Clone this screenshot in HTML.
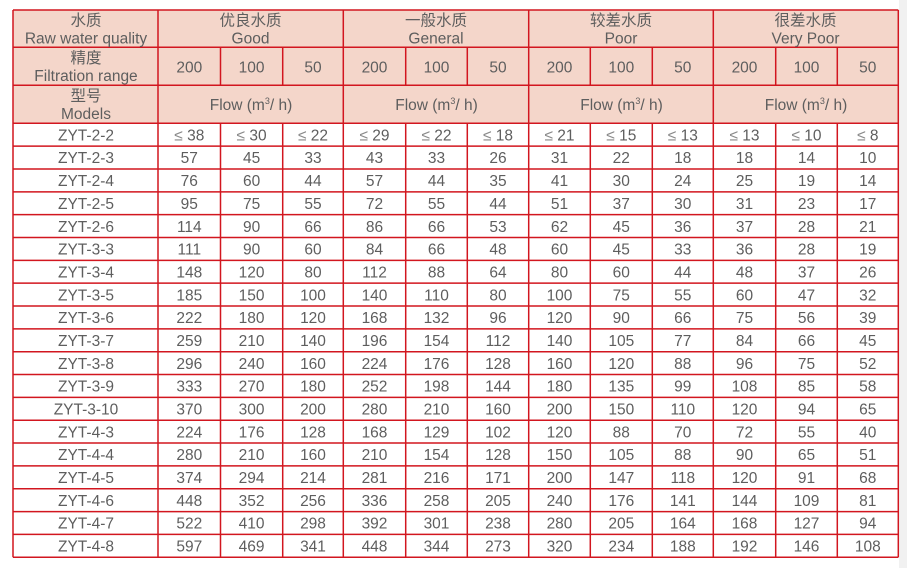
<!DOCTYPE html>
<html><head><meta charset="utf-8"><style>
html,body{margin:0;padding:0;background:#fff;}
svg{display:block;}
text{font-family:"Liberation Sans","Noto Sans CJK SC",sans-serif;font-size:15.5px;fill:#5e5e5e;text-anchor:middle;}
.le{font-size:15.5px;fill:#8a8a8a;}
</style></head><body>
<svg width="907" height="568" viewBox="0 0 907 568" xmlns="http://www.w3.org/2000/svg">
<rect x="0" y="0" width="907" height="568" fill="#fff"/>
<rect x="899" y="0" width="8" height="568" fill="#f1f1f1"/>
<rect x="13" y="10" width="885.3" height="113.3" fill="#f4d6ca"/>
<g stroke="#d2161f" stroke-width="1.5" fill="none">
<line x1="13" y1="10" x2="13" y2="557.3"/>
<line x1="158" y1="10" x2="158" y2="557.3"/>
<line x1="343.3" y1="10" x2="343.3" y2="557.3"/>
<line x1="528.7" y1="10" x2="528.7" y2="557.3"/>
<line x1="713.3" y1="10" x2="713.3" y2="557.3"/>
<line x1="898.3" y1="10" x2="898.3" y2="557.3"/>
<path d="M220.5 47.3V85.3M282.7 47.3V85.3M405.7 47.3V85.3M467.3 47.3V85.3M590.3 47.3V85.3M652.3 47.3V85.3M775.7 47.3V85.3M837.3 47.3V85.3"/>
<path d="M220.5 123.3V557.3M282.7 123.3V557.3M405.7 123.3V557.3M467.3 123.3V557.3M590.3 123.3V557.3M652.3 123.3V557.3M775.7 123.3V557.3M837.3 123.3V557.3"/>
<path d="M13 10H898.3M13 47.3H898.3M13 85.3H898.3M13 123.3H898.3M13 146.14H898.3M13 168.98H898.3M13 191.82H898.3M13 214.66H898.3M13 237.5H898.3M13 260.34H898.3M13 283.18H898.3M13 306.02H898.3M13 328.86H898.3M13 351.7H898.3M13 374.54H898.3M13 397.38H898.3M13 420.22H898.3M13 443.06H898.3M13 465.9H898.3M13 488.74H898.3M13 511.58H898.3M13 534.42H898.3M13 557.26H898.3"/>
</g>
<!-- header row 1 -->
<text y="25.5"><tspan x="86">水质</tspan><tspan x="250.5">优良水质</tspan><tspan x="436">一般水质</tspan><tspan x="621">较差水质</tspan><tspan x="805.5">很差水质</tspan></text>
<text y="43.3"><tspan x="86">Raw water quality</tspan><tspan x="250.5">Good</tspan><tspan x="436">General</tspan><tspan x="621">Poor</tspan><tspan x="805.5">Very Poor</tspan></text>
<!-- header row 2 -->
<text y="63"><tspan x="86">精度</tspan></text>
<text y="81"><tspan x="86">Filtration range</tspan></text>
<text y="72.3"><tspan x="189.3">200</tspan><tspan x="251.6">100</tspan><tspan x="313">50</tspan><tspan x="374.5">200</tspan><tspan x="436.5">100</tspan><tspan x="498">50</tspan><tspan x="559.5">200</tspan><tspan x="621.3">100</tspan><tspan x="682.8">50</tspan><tspan x="744.5">200</tspan><tspan x="806.5">100</tspan><tspan x="867.8">50</tspan></text>
<!-- header row 3 -->
<text y="101"><tspan x="86">型号</tspan></text>
<text y="119"><tspan x="86">Models</tspan></text>
<text x="251" y="110">Flow (m<tspan dy="-6" font-size="9">3</tspan><tspan dy="6">/ h)</tspan></text>
<text x="436.5" y="110">Flow (m<tspan dy="-6" font-size="9">3</tspan><tspan dy="6">/ h)</tspan></text>
<text x="621.5" y="110">Flow (m<tspan dy="-6" font-size="9">3</tspan><tspan dy="6">/ h)</tspan></text>
<text x="806" y="110">Flow (m<tspan dy="-6" font-size="9">3</tspan><tspan dy="6">/ h)</tspan></text>
<!-- data -->
<text y="140.4"><tspan x="86">ZYT-2-2</tspan><tspan x="189.3"><tspan class="le">≤</tspan> 38</tspan><tspan x="251.6"><tspan class="le">≤</tspan> 30</tspan><tspan x="313"><tspan class="le">≤</tspan> 22</tspan><tspan x="374.5"><tspan class="le">≤</tspan> 29</tspan><tspan x="436.5"><tspan class="le">≤</tspan> 22</tspan><tspan x="498"><tspan class="le">≤</tspan> 18</tspan><tspan x="559.5"><tspan class="le">≤</tspan> 21</tspan><tspan x="621.3"><tspan class="le">≤</tspan> 15</tspan><tspan x="682.8"><tspan class="le">≤</tspan> 13</tspan><tspan x="744.5"><tspan class="le">≤</tspan> 13</tspan><tspan x="806.5"><tspan class="le">≤</tspan> 10</tspan><tspan x="867.8"><tspan class="le">≤</tspan> 8</tspan></text>
<text y="163.24"><tspan x="86">ZYT-2-3</tspan><tspan x="189.3">57</tspan><tspan x="251.6">45</tspan><tspan x="313">33</tspan><tspan x="374.5">43</tspan><tspan x="436.5">33</tspan><tspan x="498">26</tspan><tspan x="559.5">31</tspan><tspan x="621.3">22</tspan><tspan x="682.8">18</tspan><tspan x="744.5">18</tspan><tspan x="806.5">14</tspan><tspan x="867.8">10</tspan></text>
<text y="186.08"><tspan x="86">ZYT-2-4</tspan><tspan x="189.3">76</tspan><tspan x="251.6">60</tspan><tspan x="313">44</tspan><tspan x="374.5">57</tspan><tspan x="436.5">44</tspan><tspan x="498">35</tspan><tspan x="559.5">41</tspan><tspan x="621.3">30</tspan><tspan x="682.8">24</tspan><tspan x="744.5">25</tspan><tspan x="806.5">19</tspan><tspan x="867.8">14</tspan></text>
<text y="208.92"><tspan x="86">ZYT-2-5</tspan><tspan x="189.3">95</tspan><tspan x="251.6">75</tspan><tspan x="313">55</tspan><tspan x="374.5">72</tspan><tspan x="436.5">55</tspan><tspan x="498">44</tspan><tspan x="559.5">51</tspan><tspan x="621.3">37</tspan><tspan x="682.8">30</tspan><tspan x="744.5">31</tspan><tspan x="806.5">23</tspan><tspan x="867.8">17</tspan></text>
<text y="231.76"><tspan x="86">ZYT-2-6</tspan><tspan x="189.3">114</tspan><tspan x="251.6">90</tspan><tspan x="313">66</tspan><tspan x="374.5">86</tspan><tspan x="436.5">66</tspan><tspan x="498">53</tspan><tspan x="559.5">62</tspan><tspan x="621.3">45</tspan><tspan x="682.8">36</tspan><tspan x="744.5">37</tspan><tspan x="806.5">28</tspan><tspan x="867.8">21</tspan></text>
<text y="254.6"><tspan x="86">ZYT-3-3</tspan><tspan x="189.3">111</tspan><tspan x="251.6">90</tspan><tspan x="313">60</tspan><tspan x="374.5">84</tspan><tspan x="436.5">66</tspan><tspan x="498">48</tspan><tspan x="559.5">60</tspan><tspan x="621.3">45</tspan><tspan x="682.8">33</tspan><tspan x="744.5">36</tspan><tspan x="806.5">28</tspan><tspan x="867.8">19</tspan></text>
<text y="277.44"><tspan x="86">ZYT-3-4</tspan><tspan x="189.3">148</tspan><tspan x="251.6">120</tspan><tspan x="313">80</tspan><tspan x="374.5">112</tspan><tspan x="436.5">88</tspan><tspan x="498">64</tspan><tspan x="559.5">80</tspan><tspan x="621.3">60</tspan><tspan x="682.8">44</tspan><tspan x="744.5">48</tspan><tspan x="806.5">37</tspan><tspan x="867.8">26</tspan></text>
<text y="300.28"><tspan x="86">ZYT-3-5</tspan><tspan x="189.3">185</tspan><tspan x="251.6">150</tspan><tspan x="313">100</tspan><tspan x="374.5">140</tspan><tspan x="436.5">110</tspan><tspan x="498">80</tspan><tspan x="559.5">100</tspan><tspan x="621.3">75</tspan><tspan x="682.8">55</tspan><tspan x="744.5">60</tspan><tspan x="806.5">47</tspan><tspan x="867.8">32</tspan></text>
<text y="323.12"><tspan x="86">ZYT-3-6</tspan><tspan x="189.3">222</tspan><tspan x="251.6">180</tspan><tspan x="313">120</tspan><tspan x="374.5">168</tspan><tspan x="436.5">132</tspan><tspan x="498">96</tspan><tspan x="559.5">120</tspan><tspan x="621.3">90</tspan><tspan x="682.8">66</tspan><tspan x="744.5">75</tspan><tspan x="806.5">56</tspan><tspan x="867.8">39</tspan></text>
<text y="345.96"><tspan x="86">ZYT-3-7</tspan><tspan x="189.3">259</tspan><tspan x="251.6">210</tspan><tspan x="313">140</tspan><tspan x="374.5">196</tspan><tspan x="436.5">154</tspan><tspan x="498">112</tspan><tspan x="559.5">140</tspan><tspan x="621.3">105</tspan><tspan x="682.8">77</tspan><tspan x="744.5">84</tspan><tspan x="806.5">66</tspan><tspan x="867.8">45</tspan></text>
<text y="368.8"><tspan x="86">ZYT-3-8</tspan><tspan x="189.3">296</tspan><tspan x="251.6">240</tspan><tspan x="313">160</tspan><tspan x="374.5">224</tspan><tspan x="436.5">176</tspan><tspan x="498">128</tspan><tspan x="559.5">160</tspan><tspan x="621.3">120</tspan><tspan x="682.8">88</tspan><tspan x="744.5">96</tspan><tspan x="806.5">75</tspan><tspan x="867.8">52</tspan></text>
<text y="391.64"><tspan x="86">ZYT-3-9</tspan><tspan x="189.3">333</tspan><tspan x="251.6">270</tspan><tspan x="313">180</tspan><tspan x="374.5">252</tspan><tspan x="436.5">198</tspan><tspan x="498">144</tspan><tspan x="559.5">180</tspan><tspan x="621.3">135</tspan><tspan x="682.8">99</tspan><tspan x="744.5">108</tspan><tspan x="806.5">85</tspan><tspan x="867.8">58</tspan></text>
<text y="414.48"><tspan x="86">ZYT-3-10</tspan><tspan x="189.3">370</tspan><tspan x="251.6">300</tspan><tspan x="313">200</tspan><tspan x="374.5">280</tspan><tspan x="436.5">210</tspan><tspan x="498">160</tspan><tspan x="559.5">200</tspan><tspan x="621.3">150</tspan><tspan x="682.8">110</tspan><tspan x="744.5">120</tspan><tspan x="806.5">94</tspan><tspan x="867.8">65</tspan></text>
<text y="437.32"><tspan x="86">ZYT-4-3</tspan><tspan x="189.3">224</tspan><tspan x="251.6">176</tspan><tspan x="313">128</tspan><tspan x="374.5">168</tspan><tspan x="436.5">129</tspan><tspan x="498">102</tspan><tspan x="559.5">120</tspan><tspan x="621.3">88</tspan><tspan x="682.8">70</tspan><tspan x="744.5">72</tspan><tspan x="806.5">55</tspan><tspan x="867.8">40</tspan></text>
<text y="460.16"><tspan x="86">ZYT-4-4</tspan><tspan x="189.3">280</tspan><tspan x="251.6">210</tspan><tspan x="313">160</tspan><tspan x="374.5">210</tspan><tspan x="436.5">154</tspan><tspan x="498">128</tspan><tspan x="559.5">150</tspan><tspan x="621.3">105</tspan><tspan x="682.8">88</tspan><tspan x="744.5">90</tspan><tspan x="806.5">65</tspan><tspan x="867.8">51</tspan></text>
<text y="483"><tspan x="86">ZYT-4-5</tspan><tspan x="189.3">374</tspan><tspan x="251.6">294</tspan><tspan x="313">214</tspan><tspan x="374.5">281</tspan><tspan x="436.5">216</tspan><tspan x="498">171</tspan><tspan x="559.5">200</tspan><tspan x="621.3">147</tspan><tspan x="682.8">118</tspan><tspan x="744.5">120</tspan><tspan x="806.5">91</tspan><tspan x="867.8">68</tspan></text>
<text y="505.84"><tspan x="86">ZYT-4-6</tspan><tspan x="189.3">448</tspan><tspan x="251.6">352</tspan><tspan x="313">256</tspan><tspan x="374.5">336</tspan><tspan x="436.5">258</tspan><tspan x="498">205</tspan><tspan x="559.5">240</tspan><tspan x="621.3">176</tspan><tspan x="682.8">141</tspan><tspan x="744.5">144</tspan><tspan x="806.5">109</tspan><tspan x="867.8">81</tspan></text>
<text y="528.68"><tspan x="86">ZYT-4-7</tspan><tspan x="189.3">522</tspan><tspan x="251.6">410</tspan><tspan x="313">298</tspan><tspan x="374.5">392</tspan><tspan x="436.5">301</tspan><tspan x="498">238</tspan><tspan x="559.5">280</tspan><tspan x="621.3">205</tspan><tspan x="682.8">164</tspan><tspan x="744.5">168</tspan><tspan x="806.5">127</tspan><tspan x="867.8">94</tspan></text>
<text y="551.52"><tspan x="86">ZYT-4-8</tspan><tspan x="189.3">597</tspan><tspan x="251.6">469</tspan><tspan x="313">341</tspan><tspan x="374.5">448</tspan><tspan x="436.5">344</tspan><tspan x="498">273</tspan><tspan x="559.5">320</tspan><tspan x="621.3">234</tspan><tspan x="682.8">188</tspan><tspan x="744.5">192</tspan><tspan x="806.5">146</tspan><tspan x="867.8">108</tspan></text>
</svg>
</body></html>
